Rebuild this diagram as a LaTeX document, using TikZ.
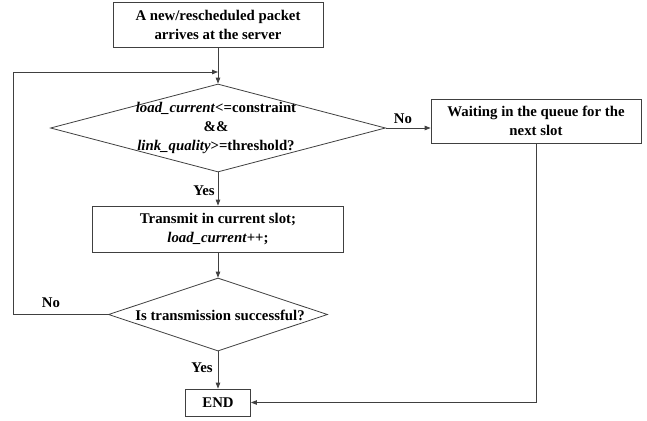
\documentclass[tikz,border=0pt]{standalone}
\usepackage{fontspec}
\setmainfont{Liberation Serif}
\usetikzlibrary{shapes.geometric,arrows.meta}
\definecolor{linegray}{HTML}{404040}
\begin{document}
\begin{tikzpicture}[x=1pt,y=-1pt,
  txt/.style={font=\fontsize{14.8}{19}\selectfont\bfseries, text=black, align=center, inner sep=0pt},
  box/.style={txt, draw=linegray, line width=0.8pt, rectangle},
  dia/.style={draw=linegray, line width=0.8pt, diamond, inner sep=0pt},
  conn/.style={draw=linegray, line width=0.8pt},
  arr/.style={conn, -{Triangle[length=6pt,width=4.5pt]}},
  lbl/.style={txt}]
\useasboundingbox (0,0) rectangle (647,420);
\fill[white] (0,0) rectangle (647,420);

\node[box, minimum width=210pt, minimum height=45pt] (start) at (218,24.5)
  {A new/rescheduled packet\\arrives at the server};
\node[dia, minimum width=335pt, minimum height=88pt] (d1) at (218,128) {};
\node[txt] (d1t) at (216,128)
  {\textit{load\_current}<=constraint\\\&\&\\\textit{link\_quality}>=threshold?};
\node[box, minimum width=210pt, minimum height=44pt] (wait) at (536,121)
  {Waiting in the queue for the\\next slot};
\node[box, minimum width=251pt, minimum height=46pt] (tx) at (218,229)
  {Transmit in current slot;\\\textit{load\_current}++;};
\node[dia, minimum width=219pt, minimum height=73pt] (d2) at (218,314.5) {};
\node[txt] (d2t) at (220,315) {Is transmission successful?};
\node[box, minimum width=65pt, minimum height=27pt] (end) at (218,402.5) {END};

\coordinate (m) at (218,72);
\coordinate (lc) at (13,72);

\draw[arr] (start.south) -- (d1.north);
\draw[arr] (d2.west) -| (lc) -- (m);
\draw[arr] (d1.east) -- (d1.east -| wait.west);
\draw[arr] (d1.south) -- (tx.north);
\draw[arr] (tx.south) -- (d2.north);
\draw[arr] (d2.south) -- (end.north);
\draw[arr] (wait.south) |- (end.east);

\node[lbl] (no1) at (403,119) {No};
\node[lbl] (yes1) at (204,191) {Yes};
\node[lbl] (no2) at (51,303) {No};
\node[lbl] (yes2) at (202,368) {Yes};
\end{tikzpicture}
\end{document}
